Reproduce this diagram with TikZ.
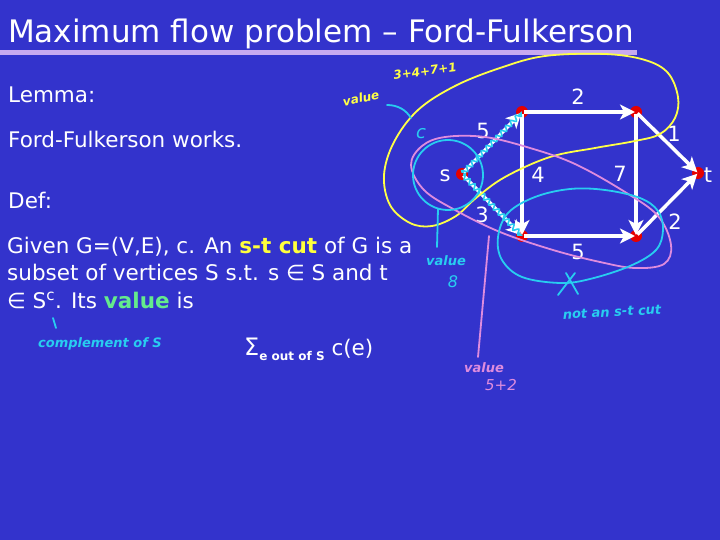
\documentclass[tikz,border=0pt]{standalone}
\usepackage{fontspec}
\setmainfont{DejaVu Sans}
\usetikzlibrary{arrows.meta,decorations.pathmorphing}
\definecolor{bg}{RGB}{51,51,204}
\definecolor{bar}{RGB}{200,170,240}
\definecolor{hy}{RGB}{255,255,70}
\definecolor{cutyellow}{RGB}{255,255,60}
\definecolor{valgreen}{RGB}{100,235,140}
\definecolor{hp}{RGB}{222,140,222}
\definecolor{hc}{RGB}{40,205,240}
\definecolor{dotred}{RGB}{230,0,0}
\tikzset{
  txt/.style={anchor=base west, text=white, inner sep=0pt, font=\fontsize{21.5}{25}\selectfont},
  num/.style={text=white, inner sep=0pt, font=\fontsize{21}{25}\selectfont},
  dot/.style={circle, fill=dotred, inner sep=0pt, minimum size=12pt},
  edge/.style={white, line width=3.5pt, -{Stealth[length=15pt,width=15pt,inset=4pt]}, shorten >=1pt, shorten <=2pt},
  hand/.style={line width=1.8pt, line cap=round, line join=round},
  handtxt/.style={inner sep=0pt, font=\fontsize{13}{13}\selectfont\bfseries\itshape},
  wavy/.style={hc, line width=1.6pt, decorate, decoration={snake, amplitude=2.4pt, segment length=7pt}}
}
\begin{document}
\begin{tikzpicture}[x=1pt,y=-1pt]
\useasboundingbox (0,0) rectangle (720,540);
\fill[bg] (0,0) rectangle (720,540);
% title
\fill[bar] (0,50) rectangle (637,55);
\node[txt, font=\fontsize{31}{35}\selectfont] (title) at (8,43) {Maximum flow problem – Ford-Fulkerson};
% body text
\node[txt] (lemma) at (8,103) {Lemma:};
\node[txt] (ff) at (8,148) {Ford-Fulkerson works.};
\node[txt] (def) at (8,208) {Def:};
\node[txt] (l1) at (7,253) {Given G=(V,E), c. An \textcolor{cutyellow}{\bfseries s-t cut} of G is a};
\node[txt] (l2) at (7,280) {subset of vertices S s.t. s ∈ S and t};
\node[txt] (l3) at (7,308) {∈ S\textsuperscript{c}. Its \textcolor{valgreen}{\bfseries value} is};
\node[txt] (sum) at (244,355) {{\fontsize{24}{24}\selectfont Σ}\raisebox{-5pt}{\fontsize{12}{12}\selectfont\bfseries e out of S} c(e)};
% graph nodes
\node[dot] (s) at (462,174) {};
\node[dot] (tl) at (522,112) {};
\node[dot] (tr) at (636,112) {};
\node[dot] (bl) at (522,236) {};
\node[dot] (br) at (636,236) {};
\node[dot] (t) at (698,173) {};
\node[num] (ls) at (445,176) {s};
\node[num] (lt) at (708,175) {t};
% edges
\draw[edge] (s.center) -- (tl.center);
\draw[edge] (s.center) -- (bl.center);
\draw[edge] (tl.center) -- (tr.center);
\draw[edge] (tl.center) -- (bl.center);
\draw[edge] (tr.center) -- (br.center);
\draw[edge] (tr.center) -- (t.center);
\draw[edge] (br.center) -- (t.center);
\draw[edge] (bl.center) -- (br.center);
% edge labels
\node[num] (c1) at (483,131) {5};
\node[num] (c2) at (482,215) {3};
\node[num] (c3) at (578,97) {2};
\node[num] (c4) at (538,175) {4};
\node[num] (c5) at (620,174) {7};
\node[num] (c6) at (674,134) {1};
\node[num] (c7) at (675,222) {2};
\node[num] (c8) at (578,252) {5};
% cyan wavy flow path
\draw[wavy, shorten <=3pt, shorten >=6pt] (s.center) -- (tl.center);
\draw[wavy, shorten <=3pt, shorten >=6pt] (s.center) -- (bl.center);
% yellow cut
\draw[hy, hand] plot[smooth cycle, tension=0.6] coordinates {
 (545,56) (500,68) (455,86) (418,110) (394,142) (384,175) (390,205) (410,223) (432,226) (456,216) (476,198) (505,177) (550,157) (595,148) (635,141) (660,134) (675,118) (678,97) (668,73) (645,60) (605,54)};
% pink cut
\draw[hp, hand] plot[smooth cycle, tension=0.6] coordinates {
 (411,165) (422,146) (445,137) (485,137) (530,148) (575,164) (625,192) (658,216) (671,245) (664,264) (635,268) (600,262) (553,250) (500,232) (455,210) (424,190)};
\draw[hp, hand] (489,236) -- (478,357);
\node[handtxt, text=hp] (pv) at (484,368) {value};
\node[handtxt, text=hp, font=\fontsize{15}{15}\selectfont\itshape] (p52) at (501,385) {5+2};
% cyan circle around s
\draw[hc, hand] (448,175) ellipse [x radius=35pt, y radius=35pt];
\draw[hc, hand] (438,209) -- (437,247);
\draw[hc, hand] (387,105) .. controls (398,105) and (406,110) .. (411,118);
\node[handtxt, text=hc, font=\fontsize{18}{18}\selectfont\itshape] (cc) at (421,134) {c};
\node[handtxt, text=hc] (cv) at (446,261) {value};
\node[handtxt, text=hc, font=\fontsize{16}{16}\selectfont\itshape] (c8v) at (453,282) {8};
% cyan not a cut
\draw[hc, hand] plot[smooth cycle, tension=0.6] coordinates {
 (498,237) (508,213) (535,197) (570,189) (605,190) (640,198) (658,211) (663,230) (656,250) (630,266) (590,279) (560,283) (522,277) (502,260)};
\draw[hc, hand] (558,295) -- (575,273);
\draw[hc, hand] (566,273) -- (578,294);
\node[handtxt, text=hc, rotate=3] (nc) at (612,312) {not an s-t cut};
% complement
\draw[hc, hand] (53,318) -- (56,328);
\node[handtxt, text=hc] (comp) at (100,344) {complement of S};
% yellow value label
\node[handtxt, text=hy, rotate=12, font=\fontsize{12}{12}\selectfont\bfseries\itshape] (yv) at (361,98) {value};
\node[handtxt, text=hy, rotate=8, font=\fontsize{12}{12}\selectfont\bfseries\itshape] (ysum) at (425,71) {3+4+7+1};
\end{tikzpicture}
\end{document}
